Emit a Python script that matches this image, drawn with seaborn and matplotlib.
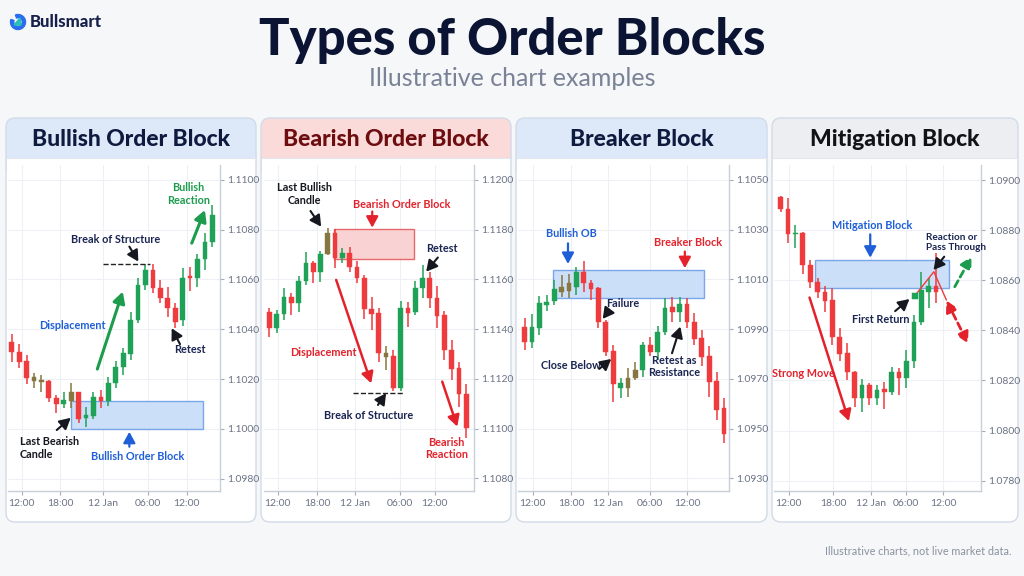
import matplotlib
matplotlib.use("Agg")
import matplotlib.pyplot as plt
import seaborn as sns
from matplotlib.patches import FancyBboxPatch, Rectangle, Wedge, Polygon

sns.set_theme(style="white")
plt.rcParams['font.family'] = ['Lato', 'DejaVu Sans']

# ---------------- data ----------------
xtick_labels = ["12:00", "18:00", "12 Jan", "06:00", "12:00"]

# Panel 1: Bullish Order Block
o1 = [1.10350,1.10307,1.10272,1.10207,1.10197,1.10192,1.10125,1.10098,1.10110,1.10146,1.10045,1.10053,1.10129,1.10112,
      1.10183,1.10250,1.10299,1.10437,1.10578,1.10638,1.10565,1.10527,1.10487,1.10437,1.10615,1.10607,1.10682,1.10749]
c1 = [1.10307,1.10270,1.10205,1.10192,1.10190,1.10122,1.10098,1.10116,1.10146,1.10039,1.10055,1.10129,1.10112,1.10183,
      1.10250,1.10303,1.10437,1.10578,1.10638,1.10565,1.10527,1.10484,1.10430,1.10607,1.10605,1.10682,1.10752,1.10859]
h1 = [1.10379,1.10339,1.10296,1.10226,1.10218,1.10196,1.10136,1.10146,1.10183,1.10146,1.10089,1.10149,1.10156,1.10209,
      1.10272,1.10326,1.10471,1.10605,1.10661,1.10661,1.10598,1.10571,1.10504,1.10648,1.10652,1.10701,1.10786,1.10900]
l1 = [1.10267,1.10243,1.10179,1.10165,1.10149,1.10109,1.10062,1.10082,1.10082,1.10022,1.10008,1.10039,1.10082,1.10093,
      1.10163,1.10216,1.10276,1.10424,1.10558,1.10544,1.10504,1.10451,1.10404,1.10414,1.10554,1.10571,1.10638,1.10732]
olive1 = [3, 4, 8]
yticks1 = [1.0980, 1.1000, 1.1020, 1.1040, 1.1060, 1.1080, 1.1100]
xticks1 = [1.35, 6.5, 12.25, 18.35, 23.55]
block1 = [7.94, 25.8, 1.1000, 1.1011]
bos1 = [12.3, 18.6, 1.10662]

# Panel 2: Bearish Order Block
o2 = [1.11468,1.11403,1.11460,1.11531,1.11504,1.11594,1.11665,1.11629,1.11701,1.11785,1.11685,1.11705,1.11651,1.11604,
      1.11481,1.11464,1.11303,1.11293,1.11165,1.11484,1.11468,1.11564,1.11604,1.11527,1.11457,1.11316,1.11242,1.11138]
c2 = [1.11403,1.11460,1.11531,1.11504,1.11594,1.11665,1.11629,1.11701,1.11785,1.11685,1.11705,1.11651,1.11604,1.11481,
      1.11460,1.11303,1.11289,1.11165,1.11484,1.11464,1.11564,1.11604,1.11527,1.11454,1.11316,1.11240,1.11138,1.11001]
h2 = [1.11484,1.11477,1.11564,1.11544,1.11615,1.11712,1.11672,1.11714,1.11806,1.11803,1.11728,1.11732,1.11672,1.11618,
      1.11531,1.11484,1.11334,1.11316,1.11513,1.11511,1.11594,1.11658,1.11631,1.11575,1.11473,1.11356,1.11267,1.11178]
l2 = [1.11370,1.11383,1.11437,1.11457,1.11470,1.11578,1.11584,1.11591,1.11698,1.11645,1.11665,1.11631,1.11584,1.11441,
      1.11397,1.11269,1.11236,1.11151,1.11151,1.11410,1.11457,1.11524,1.11486,1.11403,1.11276,1.11196,1.11088,1.10964]
olive2 = [8, 16]
yticks2 = [1.1080, 1.1100, 1.1120, 1.1140, 1.1160, 1.1180, 1.1200]
xticks2 = [1.14, 6.54, 11.76, 17.86, 22.66]
block2 = [8.83, 19.8, 1.11682, 1.11802]
bos2 = [11.4, 18.3, 1.11145]

# Panel 3: Breaker Block
o3 = [1.09910,1.09850,1.09906,1.09999,1.10015,1.10048,1.10054,1.10071,1.10131,1.10084,1.10064,1.09927,1.09812,1.09665,
      1.09702,1.09702,1.09736,1.09836,1.09807,1.09890,1.09990,1.09970,1.10000,1.09930,1.09863,1.09793,1.09692,1.09584]
c3 = [1.09847,1.09910,1.10004,1.10011,1.10062,1.10071,1.10084,1.10131,1.10084,1.10062,1.09927,1.09809,1.09678,1.09682,
      1.09665,1.09736,1.09836,1.09807,1.09890,1.09986,1.09970,1.10000,1.09930,1.09860,1.09789,1.09689,1.09575,1.09477]
h3 = [1.09944,1.09960,1.10035,1.10037,1.10098,1.10118,1.10121,1.10151,1.10174,1.10098,1.10071,1.09937,1.09836,1.09702,
      1.09745,1.09769,1.09850,1.09870,1.09914,1.10027,1.10031,1.10031,1.10027,1.09964,1.09897,1.09834,1.09729,1.09624]
l3 = [1.09816,1.09823,1.09877,1.09973,1.09997,1.10031,1.10027,1.10037,1.10051,1.10017,1.09903,1.09793,1.09606,1.09624,
      1.09628,1.09696,1.09709,1.09793,1.09776,1.09877,1.09927,1.09927,1.09903,1.09836,1.09753,1.09628,1.09535,1.09441]
olive3 = [5, 6, 14, 15]
yticks3 = [1.0930, 1.0950, 1.0970, 1.0990, 1.1010, 1.1030, 1.1050]
xticks3 = [1.08, 6.31, 11.29, 17.02, 22.0]
block3 = [3.79, 24.25, 1.10027, 1.10138]

# Panel 4: Mitigation Block
o4 = [1.08934,1.08884,1.08783,1.08787,1.08661,1.08592,1.08554,1.08521,1.08375,1.08308,1.08233,1.08132,1.08182,1.08132,
      1.08166,1.08153,1.08233,1.08209,1.08278,1.08435,1.08554,1.08578]
c4 = [1.08884,1.08783,1.08787,1.08661,1.08592,1.08554,1.08517,1.08375,1.08304,1.08233,1.08132,1.08182,1.08132,1.08162,
      1.08153,1.08233,1.08209,1.08278,1.08435,1.08561,1.08578,1.08554]
h4 = [1.08937,1.08927,1.08820,1.08791,1.08681,1.08608,1.08578,1.08570,1.08408,1.08348,1.08238,1.08206,1.08189,1.08182,
      1.08195,1.08255,1.08249,1.08322,1.08461,1.08632,1.08608,1.08709]
l4 = [1.08874,1.08747,1.08730,1.08624,1.08568,1.08531,1.08475,1.08342,1.08278,1.08202,1.08096,1.08076,1.08102,1.08102,
      1.08086,1.08142,1.08142,1.08171,1.08249,1.08421,1.08491,1.08508]
olive4 = []
yticks4 = [1.0780, 1.0800, 1.0820, 1.0840, 1.0860, 1.0880, 1.0900]
xticks4 = [1.08, 7.06, 12.15, 16.95, 22.0]
block4 = [4.67, 22.8, 1.08568, 1.08681]
first_return = [18.1, 1.08537]
path4_x = [18.1, 20.7, 22.4]
path4_y = [1.08537, 1.08634, 1.08521]

# ---------------- style ----------------
GREEN = '#1fa257'
RED = '#ef3b3d'
OLIVE = '#86763f'
NAVY = '#1b2552'
BLACK = '#16181f'
BLUE = '#1e5fd8'
TGREEN = '#1c9c4c'
TRED = '#e3222c'

W, H = 1024, 576
fig = plt.figure(figsize=(10.24, 5.76), dpi=100)
fig.patch.set_facecolor('#f6f7f9')
bg = fig.add_axes([0, 0, 1, 1])
bg.set_xlim(0, W)
bg.set_ylim(H, 0)
bg.axis('off')

# title block
bg.text(512, 41, "Types of Order Blocks", ha='center', va='center', fontsize=36.5,
        fontweight='black', color='#0b1433')
bg.text(512, 79, "Illustrative chart examples", ha='center', va='center', fontsize=18,
        color='#7a8296')
bg.add_patch(Wedge((18, 22), 7.5, -110, 200, width=3.2, color='#2a6cf0'))
bg.add_patch(Polygon([[14, 25], [20, 18], [21, 25]], closed=True, color='#27c2b4'))
bg.text(30, 22, "Bullsmart", ha='left', va='center', fontsize=12, fontweight='black', color='#16204a')
bg.text(1012, 551, "Illustrative charts, not live market data.", ha='right', va='center',
        fontsize=7.8, color='#8a91a0')

cards = [(6, 118, 256, 522), (261, 118, 511, 522), (516, 118, 767, 522), (772, 118, 1018, 522)]
head_fc = ['#dde9f9', '#fbdada', '#dde9f9', '#eceef2']
titles = ["Bullish Order Block", "Bearish Order Block", "Breaker Block", "Mitigation Block"]
title_col = ['#0f1a3f', '#6e0d10', '#0f1a3f', '#111318']
HB = 158
for (l, t, r, b), hc, ti, tc in zip(cards, head_fc, titles, title_col):
    bg.add_patch(FancyBboxPatch((l, t), r - l, b - t, boxstyle="round,pad=0,rounding_size=9",
                                fc='white', ec='none'))
    bg.add_patch(FancyBboxPatch((l, t), r - l, 60, boxstyle="round,pad=0,rounding_size=9",
                                fc=hc, ec='none'))
    bg.add_patch(Rectangle((l + 0.5, HB), r - l - 1, 30, fc='white', ec='none'))
    bg.add_patch(FancyBboxPatch((l, t), r - l, b - t, boxstyle="round,pad=0,rounding_size=9",
                                fc='none', ec='#d2dbe8', lw=1.0))
    bg.plot([l + 1, r - 1], [HB, HB], color='#e2e7ef', lw=0.8)
    bg.text((l + r) / 2, 139.5, ti, ha='center', va='center', fontsize=16.5,
            fontweight='black', color=tc)


def px_axes(l, t, r, b):
    ax = fig.add_axes([l / W, 1 - b / H, (r - l) / W, (b - t) / H])
    ax.set_facecolor('none')
    return ax


def candles(ax, o, h, l, c, olive):
    xs = list(range(len(o)))
    cols = []
    for i in xs:
        if i in olive:
            cols.append(OLIVE)
        elif c[i] >= o[i]:
            cols.append(GREEN)
        else:
            cols.append(RED)
    ax.vlines(xs, l, h, colors=cols, lw=1.1, zorder=3)
    bottoms = [min(a, b) for a, b in zip(o, c)]
    heights = [max(abs(a - b), 0.00005) for a, b in zip(o, c)]
    ax.bar(xs, heights, bottom=bottoms, width=0.64, color=cols, edgecolor=cols, lw=0.3, zorder=4)


def style_axes(ax, xlim, ylim, xticks, yticks):
    ax.set_xlim(*xlim)
    ax.set_ylim(*ylim)
    ax.set_xticks(xticks)
    ax.set_xticklabels(xtick_labels)
    ax.set_yticks(yticks)
    ax.set_yticklabels([f"{v:.4f}" for v in yticks])
    ax.yaxis.tick_right()
    ax.grid(True, color='#edf0f4', lw=0.8, zorder=0)
    sns.despine(ax=ax, left=True, top=True, right=False, bottom=False)
    for s in ('right', 'bottom'):
        ax.spines[s].set_color('#c8cfd9')
        ax.spines[s].set_linewidth(1.0)
    ax.tick_params(axis='both', length=3, width=0.8, color='#a4acb8', labelsize=7.5,
                   labelcolor='#6b7385')
    ax.tick_params(axis='x', bottom=True, pad=3)
    ax.tick_params(axis='y', right=True, left=False, pad=2)


def block(ax, bl, fc, ec):
    ax.add_patch(Rectangle((bl[0], bl[2]), bl[1] - bl[0], bl[3] - bl[2], fc=fc, ec=ec, lw=1.0,
                           alpha=0.9, zorder=2))


def label(ax, x, y, s, color, ha='center', size=7.8):
    ax.text(x, y, s, color=color, fontsize=size, fontweight='bold', ha=ha, va='center',
            linespacing=1.15, zorder=6)


def arrow(ax, tail, tip, color, lw=1.5, ls='-', style='-|>', hl=0.55, hw=0.3):
    ax.annotate('', xy=tip, xytext=tail, zorder=6,
                arrowprops=dict(arrowstyle=f'{style},head_length={hl},head_width={hw}', color=color,
                                lw=lw, linestyle=ls, shrinkA=0, shrinkB=0))


# ---------------- panel 1 ----------------
ax1 = px_axes(8, 165, 220, 491)
style_axes(ax1, (-0.5, 28.03), (1.09750, 1.11060), xticks1, yticks1)
block(ax1, block1, '#c6dcf8', '#6f9fe6')
candles(ax1, o1, h1, l1, c1, olive1)
ax1.plot([bos1[0], bos1[1]], [bos1[2], bos1[2]], ls='--', color='#222', lw=1.0, zorder=5)
label(ax1, 14.0, 1.10759, "Break of Structure", NAVY)
label(ax1, 8.1, 1.10414, "Displacement", BLUE)
label(ax1, 24.0, 1.10317, "Retest", NAVY)
label(ax1, 23.8, 1.10943, "Bullish\nReaction", TGREEN)
label(ax1, 1.12, 1.09923, "Last Bearish\nCandle", BLACK, ha='left')
label(ax1, 16.9, 1.09888, "Bullish Order Block", BLUE)
arrow(ax1, (15.83, 1.10732), (17.04, 1.10672), BLACK)
arrow(ax1, (11.52, 1.10240), (14.94, 1.10551), TGREEN, lw=2.2)
arrow(ax1, (22.65, 1.10340), (21.53, 1.10404), BLACK)
arrow(ax1, (24.23, 1.10746), (26.0, 1.10879), TGREEN, lw=2.2)
arrow(ax1, (6.06, 1.09995), (7.94, 1.10044), BLACK)
arrow(ax1, (15.83, 1.09928), (15.83, 1.09988), BLUE, lw=1.6)

# ---------------- panel 2 ----------------
ax2 = px_axes(264, 165, 474, 491)
style_axes(ax2, (-0.75, 28.06), (1.10749, 1.12060), xticks2, yticks2)
block(ax2, block2, '#f9cfcf', '#e45a5c')
candles(ax2, o2, h2, l2, c2, olive2)
ax2.plot([bos2[0], bos2[1]], [bos2[2], bos2[2]], ls='--', color='#222', lw=1.0, zorder=5)
label(ax2, 4.8, 1.11944, "Last Bullish\nCandle", BLACK)
label(ax2, 18.2, 1.11902, "Bearish Order Block", TRED)
label(ax2, 23.6, 1.11725, "Retest", NAVY)
label(ax2, 7.46, 1.11307, "Displacement", TRED)
label(ax2, 13.64, 1.11051, "Break of Structure", NAVY)
label(ax2, 24.26, 1.10921, "Bearish\nReaction", TRED)
arrow(ax2, (5.63, 1.11875), (7.09, 1.11812), BLACK)
arrow(ax2, (14.1, 1.11873), (14.1, 1.11808), TRED, lw=1.6)
arrow(ax2, (23.1, 1.11688), (21.5, 1.11631), BLACK)
arrow(ax2, (9.15, 1.11598), (13.96, 1.11182), TRED, lw=1.8)
arrow(ax2, (14.88, 1.11095), (16.0, 1.11142), BLACK)
arrow(ax2, (23.7, 1.11189), (25.77, 1.11008), TRED, lw=1.8)

# ---------------- panel 3 ----------------
ax3 = px_axes(518, 165, 729, 491)
style_axes(ax3, (-0.9, 27.68), (1.09249, 1.10560), xticks3, yticks3)
block(ax3, block3, '#c6dcf8', '#6f9fe6')
candles(ax3, o3, h3, l3, c3, olive3)
label(ax3, 6.32, 1.10283, "Bullish OB", BLUE)
label(ax3, 22.2, 1.10248, "Breaker Block", TRED)
label(ax3, 13.3, 1.10004, "Failure", NAVY)
label(ax3, 6.32, 1.09753, "Close Below", NAVY)
label(ax3, 20.3, 1.09749, "Retest as\nResistance", NAVY)
arrow(ax3, (5.87, 1.10245), (5.87, 1.10162), BLUE, lw=1.6)
arrow(ax3, (21.7, 1.10212), (21.7, 1.10145), TRED, lw=1.6)
arrow(ax3, (11.38, 1.09973), (10.57, 1.09941), BLACK)
arrow(ax3, (10.1, 1.09740), (11.73, 1.09780), BLACK)
arrow(ax3, (19.96, 1.09803), (21.09, 1.09910), BLACK)

# ---------------- panel 4 ----------------
ax4 = px_axes(774, 165, 981, 491)
style_axes(ax4, (-0.9, 27.07), (1.07759, 1.09060), xticks4, yticks4)
block(ax4, block4, '#c6dcf8', '#6f9fe6')
candles(ax4, o4, h4, l4, c4, olive4)
ax4.plot(path4_x, path4_y, color=RED, lw=1.0, zorder=5)
sns.scatterplot(x=[first_return[0]], y=[first_return[1]], ax=ax4, marker='s', s=18,
                color=GREEN, edgecolor=GREEN, zorder=6, legend=False)
label(ax4, 12.32, 1.08820, "Mitigation Block", BLUE)
label(ax4, 19.7, 1.08752, "Reaction or\nPass Through", NAVY, ha='left', size=7.2)
label(ax4, 13.5, 1.08445, "First Return", NAVY)
label(ax4, 3.05, 1.08229, "Strong Move", TRED)
arrow(ax4, (12.1, 1.08783), (12.1, 1.08690), BLUE, lw=1.6)
arrow(ax4, (22.1, 1.08694), (20.65, 1.08641), BLACK)
arrow(ax4, (15.47, 1.08477), (17.4, 1.08525), BLACK)
arrow(ax4, (3.9, 1.08531), (9.22, 1.08038), TRED, lw=1.8)
arrow(ax4, (23.52, 1.08574), (25.78, 1.08694), TGREEN, lw=2.0, ls=(0, (2.5, 1.5)))
arrow(ax4, (22.4, 1.08519), (25.32, 1.08348), TRED, lw=2.0, ls=(0, (2.5, 1.5)), style='<|-|>')

fig.savefig("out.png", dpi=100, facecolor=fig.get_facecolor())
